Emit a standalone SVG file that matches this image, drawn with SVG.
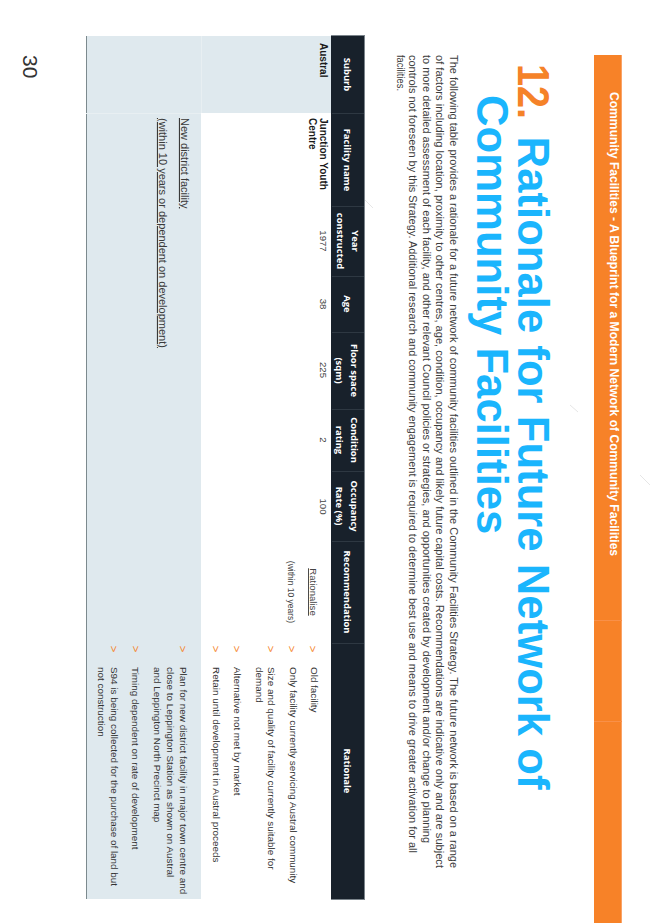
<svg xmlns="http://www.w3.org/2000/svg" width="653" height="923" viewBox="0 0 653 923">
<style>
text{font-family:"Liberation Sans",Arial,sans-serif}
.band{font-size:12.1px;font-weight:700;fill:#fff}
.title{font-size:43.700px;font-weight:700;fill:#1ab5fd}
.num{fill:#f58228}
.para{font-size:10.200px;fill:#3c3c3c}
.hd{font-family:"Open Sans","Liberation Sans",sans-serif;font-size:9.400px;font-weight:700;fill:#fff;text-anchor:middle}
.cb{font-size:10px;font-weight:700;fill:#1a1a1a}
.c{font-size:9.6px;fill:#444;text-anchor:middle}
.r{font-size:9.900px;fill:#333}
.u{font-size:11px;fill:#3a3a3a;text-decoration:underline}
.b{font-size:11px;fill:#f58228;text-anchor:middle}
.sep{stroke:#2e3842;stroke-width:1}
</style>
<rect width="653" height="923" fill="#fff"/>
<g id="header-band">
<rect x="594" y="55" width="27.500" height="868" fill="#f78228"/>
<rect x="621" y="55" width="1" height="868" fill="#f9a367"/>
<path d="M594 620.500H622M594 721.500H622" stroke="#f99048" stroke-width="1"/>
</g>
<g id="table-shapes">
<rect x="201" y="36" width="130" height="77" fill="#dfe9ee"/>
<rect x="86" y="36" width="115" height="863" fill="#dfe9ee"/>
<path d="M86.500 36V899" stroke="#7c8a8e" stroke-width="1"/>
<rect x="331" y="36" width="34" height="863" fill="#18212b"/>
<path d="M331 35.500H365M364.500 35.500V899.500M331 899.500H365" fill="none" stroke="#7b848b" stroke-width="1"/>
<path class="sep" d="M332 113.500H364M332 206.500H364M332 276.500H364M332 332.500H364M332 409.500H364M332 471.500H364M332 541.500H364M332 643.500H364"/>
<path d="M86 113.500H201" stroke="#e8eff2" stroke-width="1"/>
<path d="M201.500 36V113" stroke="#e8eff2" stroke-width="1"/>
</g>
<g id="marks" stroke="#e6e6e6" stroke-width="1">
<path d="M365 200L373 208M570 405L578 412M640 475L650 485"/>
</g>
<g id="texts" transform="translate(653 0) rotate(90)">
<text class="band" x="92" y="43">Community Facilities - A Blueprint for a Modern Network of Community Facilities</text>
<text class="title num" style="fill:#f58228" x="64" y="135" textLength="55" lengthAdjust="spacingAndGlyphs">12.</text>
<text class="title" x="136.600" y="135">Rationale for Future Network of</text>
<text class="title" x="95" y="176">Community Facilities</text>
<text class="para" x="55" y="203.500" textLength="813" lengthAdjust="spacingAndGlyphs">The following table provides a rationale for a future network of community facilities outlined in the Community Facilities Strategy. The future network is based on a range</text>
<text class="para" x="55" y="217" textLength="813" lengthAdjust="spacingAndGlyphs">of factors including location, proximity to other centres, age, condition, occupancy and likely future capital costs. Recommendations are indicative only and are subject</text>
<text class="para" x="55" y="230.300" textLength="788" lengthAdjust="spacingAndGlyphs">to more detailed assessment of each facility, and other relevant Council policies or strategies, and opportunities created by development and/or change to planning</text>
<text class="para" x="55" y="243.700" textLength="798" lengthAdjust="spacingAndGlyphs">controls not foreseen by this Strategy. Additional research and community engagement is required to determine best use and means to drive greater activation for all</text>
<text class="para" x="55" y="256" textLength="36" lengthAdjust="spacingAndGlyphs">facilities.</text>
<text class="hd" x="74.500" y="309">Suburb</text>
<text class="hd" x="160" y="309">Facility name</text>
<text class="hd" x="241" y="301">Year</text>
<text class="hd" x="241" y="316">constructed</text>
<text class="hd" x="304" y="309">Age</text>
<text class="hd" x="370.500" y="302">Floor space</text>
<text class="hd" x="370.500" y="317">(sqm)</text>
<text class="hd" x="440" y="302">Condition</text>
<text class="hd" x="440" y="317">rating</text>
<text class="hd" x="506" y="302">Occupancy</text>
<text class="hd" x="506" y="317">Rate (%)</text>
<text class="hd" x="592" y="309">Recommendation</text>
<text class="hd" x="771" y="309">Rationale</text>
<text class="cb" x="43" y="333">Austral</text>
<text class="cb" x="118" y="333">Junction Youth</text>
<text class="cb" x="118" y="344.500">Centre</text>
<text class="c" x="241" y="333">1977</text>
<text class="c" x="304" y="333">38</text>
<text class="c" x="370" y="333">225</text>
<text class="c" x="440" y="333">2</text>
<text class="c" x="506.500" y="333">100</text>
<text class="c" x="592" y="343" style="text-decoration:underline">Rationalise</text>
<text class="c" x="592" y="365" style="font-size:8.5px">(within 10 years)</text>
<text class="u" x="118" y="472">New district facility</text>
<text class="u" x="118" y="494">(within 10 years or dependent on development)</text>
<text class="b" x="649" y="344">&gt;</text>
<text class="b" x="649" y="365">&gt;</text>
<text class="b" x="649" y="386">&gt;</text>
<text class="b" x="649" y="420">&gt;</text>
<text class="b" x="649" y="441">&gt;</text>
<text class="b" x="649" y="474">&gt;</text>
<text class="b" x="649" y="521">&gt;</text>
<text class="b" x="649" y="543">&gt;</text>
<text class="r" x="667" y="342.500">Old facility</text>
<text class="r" x="667" y="363.500">Only facility currently servicing Austral community</text>
<text class="r" x="667" y="385">Size and quality of facility currently suitable for</text>
<text class="r" x="667" y="397.500">demand</text>
<text class="r" x="667" y="419">Alternative not met by market</text>
<text class="r" x="667" y="440">Retain until development in Austral proceeds</text>
<text class="r" x="667" y="473">Plan for new district facility in major town centre and</text>
<text class="r" x="667" y="486">close to Leppington Station as shown on Austral</text>
<text class="r" x="667" y="499.500">and Leppington North Precinct map</text>
<text class="r" x="667" y="521">Timing dependent on rate of development</text>
<text class="r" x="667" y="542">S94 is being collected for the purchase of land but</text>
<text class="r" x="667" y="555">not construction</text>
<text x="55" y="630" style="font-size:21px;fill:#333">30</text>
</g>
</svg>
